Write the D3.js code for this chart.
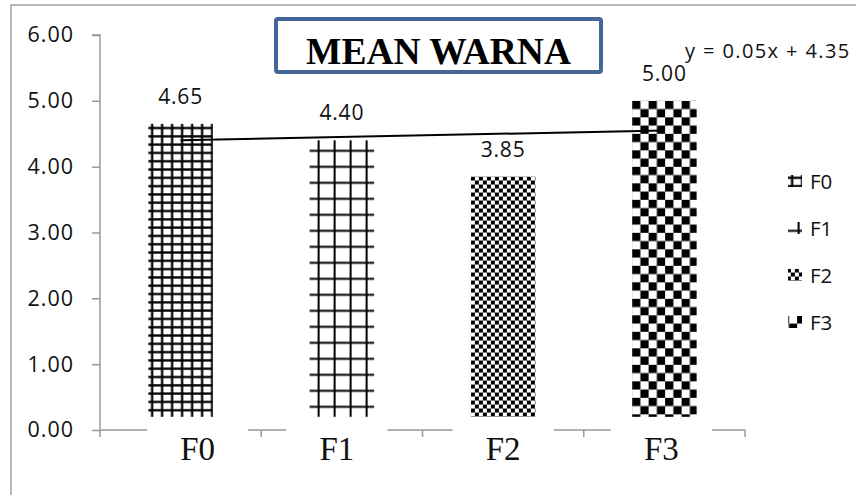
<!DOCTYPE html>
<html>
<head>
<meta charset="utf-8">
<script src="https://cdn.jsdelivr.net/npm/d3@7/dist/d3.min.js"></script>
<style>
  html, body { margin: 0; padding: 0; background: #fff; }
  svg { display: block; }
</style>
</head>
<body>
<svg id="chart" width="856" height="495"></svg>
<script>
// Mean colour score per formulation
const categories = ["F0", "F1", "F2", "F3"];
const meanValues = [4.65, 4.40, 3.85, 5.00];
const yTickValues = [0, 1, 2, 3, 4, 5, 6];
// Linear trend fitted over the formulation index (1..4)
const trendSlope = 0.05;
const trendIntercept = 4.35;
const trendLabel = "y = 0.05x + 4.35";
const chartTitle = "MEAN WARNA";

// Layout
const W = 856, H = 495;
const plot = { left: 100, right: 745, top: 35, bottom: 430 };
const barBase = 0.2;              // patterned fills stop a little above the axis
const labelShift = [17, -5, 0, -3];
const sansFont = "'Open Sans', sans-serif";
const serifFont = "'Liberation Serif', 'Times New Roman', serif";

const svg = d3.select("#chart");

// Outer chart frame
svg.append("rect")
  .attr("x", 11).attr("y", 5).attr("width", 900).attr("height", 600)
  .attr("fill", "#fff").attr("stroke", "#a0a0a0").attr("stroke-width", 1.5);

const x = d3.scaleBand().domain(categories).range([plot.left, plot.right]).padding(0);
const y = d3.scaleLinear().domain([0, 6]).range([plot.bottom, plot.top]);
const barW = x.bandwidth() * 0.4;
const barX = c => x(c) + (x.bandwidth() - barW) / 2;

// Fill patterns, anchored at each mark's top-left corner
const defs = svg.append("defs");
function addPattern(id, ox, oy, kind) {
  const p = defs.append("pattern").attr("id", id)
    .attr("patternUnits", "userSpaceOnUse")
    .attr("x", ox).attr("y", oy);
  if (kind === 0) {
    // fine grid
    p.attr("width", 10).attr("height", 8.3);
    p.append("rect").attr("width", 10).attr("height", 8.3).attr("fill", "#fff");
    p.append("rect").attr("x", 2.6).attr("y", 0).attr("width", 2.3).attr("height", 8.3).attr("fill", "#000");
    p.append("rect").attr("x", 0).attr("y", 3).attr("width", 10).attr("height", 2.3).attr("fill", "#000");
  } else if (kind === 1) {
    // wide grid
    p.attr("width", 16).attr("height", 16);
    p.append("rect").attr("width", 16).attr("height", 16).attr("fill", "#fff");
    p.append("rect").attr("x", 8).attr("y", 0).attr("width", 2).attr("height", 16).attr("fill", "#000");
    p.append("rect").attr("x", 0).attr("y", 9.5).attr("width", 16).attr("height", 2).attr("fill", "#000");
  } else if (kind === 2) {
    // small checkerboard
    const s = 4;
    p.attr("width", 2 * s).attr("height", 2 * s);
    p.append("rect").attr("width", 2 * s).attr("height", 2 * s).attr("fill", "#fff");
    p.append("rect").attr("width", s).attr("height", s).attr("fill", "#000");
    p.append("rect").attr("x", s).attr("y", s).attr("width", s).attr("height", s).attr("fill", "#000");
  } else {
    // large checkerboard
    const s = 8.25;
    p.attr("width", 2 * s).attr("height", 2 * s);
    p.append("rect").attr("width", 2 * s).attr("height", 2 * s).attr("fill", "#fff");
    p.append("rect").attr("width", s).attr("height", s).attr("fill", "#000");
    p.append("rect").attr("x", s).attr("y", s).attr("width", s).attr("height", s).attr("fill", "#000");
  }
}
categories.forEach((c, i) => addPattern("pat-" + c, barX(c), y(meanValues[i]), i));

// Y axis
const yAxis = d3.axisLeft(y).tickValues(yTickValues).tickFormat(d3.format(".2f"))
  .tickSize(8).tickPadding(18);
const gy = svg.append("g").attr("transform", `translate(${plot.left},0)`).call(yAxis);
gy.select(".domain").attr("stroke", "#9a9a9a").attr("stroke-width", 1.5)
  .attr("d", `M-8,${plot.top}H0V${plot.bottom + 7}`);
gy.selectAll(".tick line").attr("stroke", "#9a9a9a").attr("stroke-width", 1.5);
gy.selectAll(".tick text").attr("font-family", sansFont).attr("font-size", 21.5)
  .attr("fill", "#111").attr("letter-spacing", 1);

// X axis: line with boundary ticks between categories
const bounds = categories.map(c => x(c)).concat([x(categories[categories.length - 1]) + x.bandwidth()]);
const gx = svg.append("g");
gx.append("line")
  .attr("x1", plot.left).attr("x2", plot.right)
  .attr("y1", y(0)).attr("y2", y(0))
  .attr("stroke", "#9a9a9a").attr("stroke-width", 1.5);
gx.selectAll("line.tk").data(bounds.slice(1)).join("line").attr("class", "tk")
  .attr("x1", d => d).attr("x2", d => d)
  .attr("y1", y(0)).attr("y2", y(0) + 7)
  .attr("stroke", "#9a9a9a").attr("stroke-width", 1.5);

// Category labels sit on white boxes that break the axis line
const catG = svg.append("g");
categories.forEach((c, i) => {
  const cx = x(c) + x.bandwidth() / 2 + labelShift[i];
  catG.append("rect")
    .attr("x", cx - 50.5).attr("y", y(0) - 5).attr("width", 101).attr("height", 40)
    .attr("fill", "#fff");
  catG.append("text")
    .attr("x", cx).attr("y", y(0) + 30)
    .attr("text-anchor", "middle")
    .attr("font-family", serifFont).attr("font-size", 33).attr("fill", "#111")
    .text(c);
});

// Bars
svg.append("g").selectAll("rect").data(categories).join("rect")
  .attr("x", d => barX(d))
  .attr("y", (d, i) => y(meanValues[i]))
  .attr("width", barW)
  .attr("height", (d, i) => y(barBase) - y(meanValues[i]))
  .attr("fill", d => `url(#pat-${d})`);

// Value labels
svg.append("g").selectAll("text").data(categories).join("text")
  .attr("x", d => x(d) + x.bandwidth() / 2)
  .attr("y", (d, i) => y(meanValues[i]) - 20)
  .attr("text-anchor", "middle")
  .attr("font-family", sansFont).attr("font-size", 21).attr("fill", "#111")
  .attr("letter-spacing", 0.8)
  .text((d, i) => d3.format(".2f")(meanValues[i]));

// Trend line from first to last category
const trendPts = categories.map((c, i) => [x(c) + x.bandwidth() / 2, y(trendSlope * (i + 1) + trendIntercept)]);
svg.append("line")
  .attr("x1", trendPts[0][0]).attr("y1", trendPts[0][1])
  .attr("x2", trendPts[trendPts.length - 1][0]).attr("y2", trendPts[trendPts.length - 1][1])
  .attr("stroke", "#000").attr("stroke-width", 2);

svg.append("text")
  .attr("x", 685).attr("y", 58)
  .attr("font-family", sansFont).attr("font-size", 20).attr("fill", "#111")
  .attr("letter-spacing", 1.4)
  .text(trendLabel);

// Title box
svg.append("rect")
  .attr("x", 276).attr("y", 19).attr("width", 325).attr("height", 53)
  .attr("rx", 2).attr("fill", "#fff")
  .attr("stroke", "#44679a").attr("stroke-width", 4);
svg.append("text")
  .attr("x", 438.5).attr("y", 64)
  .attr("text-anchor", "middle")
  .attr("font-family", serifFont).attr("font-weight", "bold").attr("font-size", 37.5)
  .attr("fill", "#000")
  .text(chartTitle);

// Legend
const legend = svg.append("g");
categories.forEach((c, i) => {
  const cy = 181 + i * 47;
  legend.append("rect")
    .attr("x", 788).attr("y", cy - 6).attr("width", 14).attr("height", 12)
    .attr("fill", `url(#pat-${c})`);
  legend.append("text")
    .attr("x", 810).attr("y", cy + 7.5)
    .attr("font-family", sansFont).attr("font-size", 20.5).attr("fill", "#111")
    .text(c);
});
</script>
</body>
</html>
